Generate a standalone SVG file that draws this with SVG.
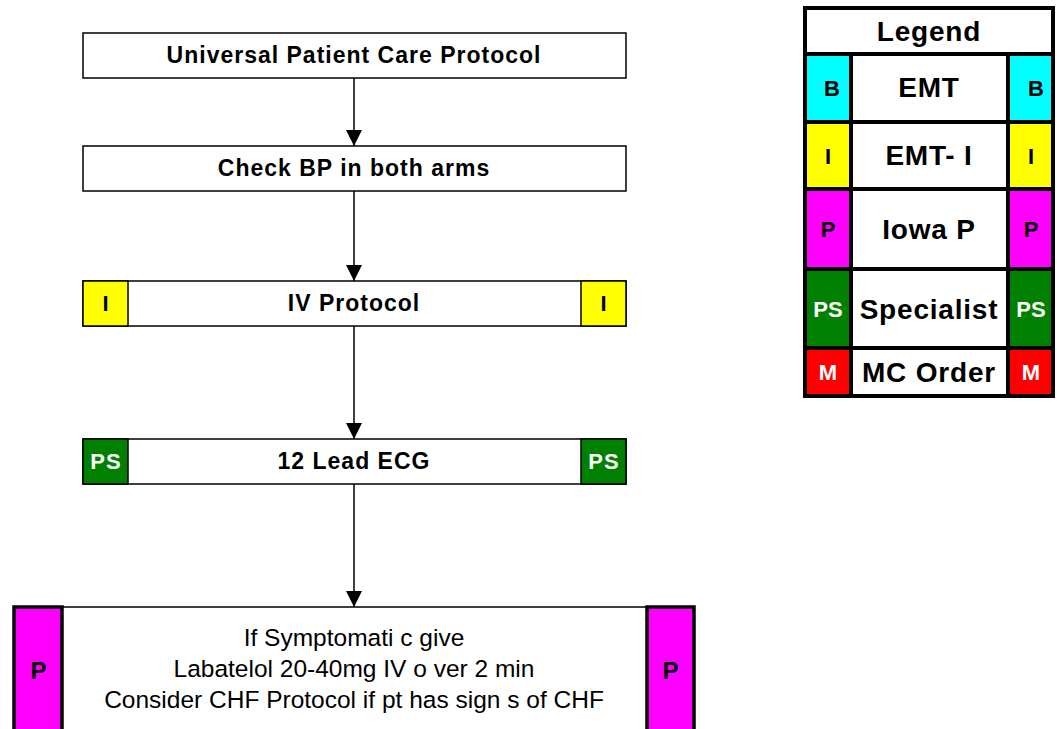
<svg xmlns="http://www.w3.org/2000/svg" width="1057" height="729" viewBox="0 0 1057 729">
<style>
.box{fill:#fff;stroke:#000;stroke-width:1.5}
.tag{stroke:#000;stroke-width:1.5}
.lg{stroke:#000;stroke-width:4}
.bt{font-family:"Liberation Sans",Arial,sans-serif;font-weight:bold;font-size:23px;letter-spacing:1px;text-anchor:middle;fill:#000}
.st{font-family:"Liberation Sans",Arial,sans-serif;font-weight:bold;font-size:22px;text-anchor:middle}
.lt{font-family:"Liberation Sans",Arial,sans-serif;font-weight:bold;font-size:28px;letter-spacing:0.8px;text-anchor:middle;fill:#000}
.nt{font-family:"Liberation Sans",Arial,sans-serif;font-size:24.5px;text-anchor:middle;fill:#000}
.cn{stroke:#000;stroke-width:1.5;fill:none}
</style>
<defs>
<marker id="ah" viewBox="0 0 16 16" refX="16" refY="8" markerWidth="16" markerHeight="16" markerUnits="userSpaceOnUse" orient="auto">
<path d="M0,0 L16,8 L0,16 z" fill="#000"/>
</marker>
</defs>
<g id="connectors">
<line class="cn" x1="354" y1="78" x2="354" y2="146" marker-end="url(#ah)"/>
<line class="cn" x1="354" y1="191" x2="354" y2="281" marker-end="url(#ah)"/>
<line class="cn" x1="354" y1="326" x2="354" y2="439" marker-end="url(#ah)"/>
<line class="cn" x1="354" y1="484" x2="354" y2="607" marker-end="url(#ah)"/>
</g>
<g id="n1">
<rect class="box" x="83" y="33" width="543" height="45"/>
<text class="bt" x="354" y="63">Universal Patient Care Protocol</text>
</g>
<g id="n2">
<rect class="box" x="83" y="146" width="543" height="45"/>
<text class="bt" x="354" y="176">Check BP in both arms</text>
</g>
<g id="n3">
<rect class="box" x="83" y="281" width="543" height="45"/>
<rect class="tag" x="83" y="281" width="45" height="45" fill="#ffff00"/>
<rect class="tag" x="581" y="281" width="45" height="45" fill="#ffff00"/>
<text class="st" x="105.5" y="311" fill="#000">I</text>
<text class="st" x="603.5" y="311" fill="#000">I</text>
<text class="bt" x="354" y="311">IV Protocol</text>
</g>
<g id="n4">
<rect class="box" x="83" y="439" width="543" height="45"/>
<rect class="tag" x="83" y="439" width="45" height="45" fill="#008000"/>
<rect class="tag" x="581" y="439" width="45" height="45" fill="#008000"/>
<text class="st" x="106" y="469" fill="#fff" letter-spacing="1">PS</text>
<text class="st" x="604" y="469" fill="#fff" letter-spacing="1">PS</text>
<text class="bt" x="354" y="469">12 Lead ECG</text>
</g>
<g id="n5">
<rect class="box" x="14" y="607" width="680" height="140"/>
<rect x="14" y="607" width="48" height="140" fill="#ff00ff" stroke="#000" stroke-width="3.5"/>
<rect x="647" y="607" width="47" height="140" fill="#ff00ff" stroke="#000" stroke-width="3.5"/>
<text x="38.5" y="679" font-family="Liberation Sans, Arial, sans-serif" font-weight="bold" font-size="24" text-anchor="middle" fill="#000">P</text>
<text x="670.5" y="679" font-family="Liberation Sans, Arial, sans-serif" font-weight="bold" font-size="24" text-anchor="middle" fill="#000">P</text>
<text class="nt" x="354" y="646">If Symptomati c give</text>
<text class="nt" x="354" y="677">Labatelol 20-40mg IV o ver 2 min</text>
<text class="nt" x="354" y="708">Consider CHF Protocol if pt has sign s of CHF</text>
</g>
<g id="legend">
<rect class="lg" x="805" y="8" width="248" height="388" fill="#fff"/>
<line class="lg" x1="805" y1="54" x2="1053" y2="54"/>
<text class="lt" x="929" y="41">Legend</text>
<rect class="lg" x="805" y="54" width="46" height="68" fill="#00ffff"/>
<rect class="lg" x="1008" y="54" width="45" height="68" fill="#00ffff"/>
<text class="st" x="832" y="96" fill="#000">B</text>
<text class="st" x="1036" y="96" fill="#000">B</text>
<text class="lt" x="929" y="97">EMT</text>
<line class="lg" x1="805" y1="122" x2="1053" y2="122"/>
<rect class="lg" x="805" y="122" width="46" height="67" fill="#ffff00"/>
<rect class="lg" x="1008" y="122" width="45" height="67" fill="#ffff00"/>
<text class="st" x="828" y="164" fill="#000">I</text>
<text class="st" x="1031" y="164" fill="#000">I</text>
<text class="lt" x="929" y="165">EMT- I</text>
<line class="lg" x1="805" y1="189" x2="1053" y2="189"/>
<rect class="lg" x="805" y="189" width="46" height="80" fill="#ff00ff"/>
<rect class="lg" x="1008" y="189" width="45" height="80" fill="#ff00ff"/>
<text class="st" x="828" y="237" fill="#000">P</text>
<text class="st" x="1031" y="237" fill="#000">P</text>
<text class="lt" x="929" y="239">Iowa P</text>
<line class="lg" x1="805" y1="269" x2="1053" y2="269"/>
<rect class="lg" x="805" y="269" width="46" height="79" fill="#008000"/>
<rect class="lg" x="1008" y="269" width="45" height="79" fill="#008000"/>
<text class="st" x="828" y="317" fill="#fff">PS</text>
<text class="st" x="1031" y="317" fill="#fff">PS</text>
<text class="lt" x="929" y="319">Specialist</text>
<line class="lg" x1="805" y1="348" x2="1053" y2="348"/>
<rect class="lg" x="805" y="348" width="46" height="48" fill="#ff0000"/>
<rect class="lg" x="1008" y="348" width="45" height="48" fill="#ff0000"/>
<text class="st" x="828" y="380" fill="#fff">M</text>
<text class="st" x="1031" y="380" fill="#fff">M</text>
<text class="lt" x="929" y="382">MC Order</text>
</g>
</svg>
